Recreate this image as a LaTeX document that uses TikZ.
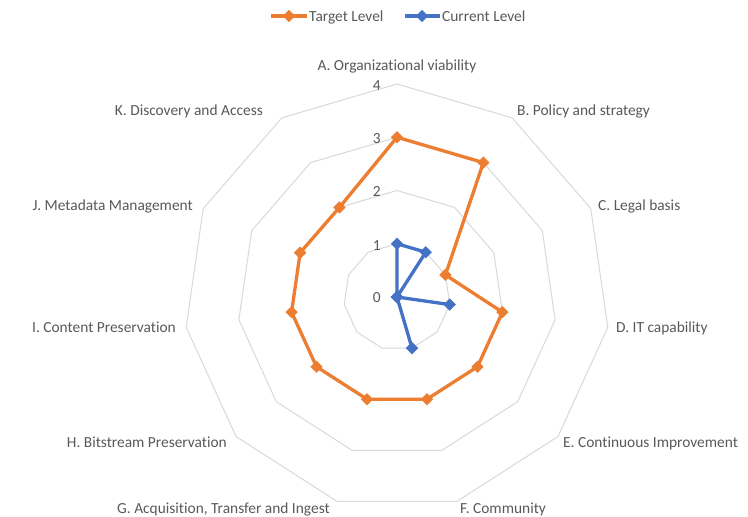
\documentclass[tikz,border=0pt]{standalone}
\usepackage{fontspec}
\setmainfont{Carlito}[Ligatures={NoCommon}]
\usetikzlibrary{shapes.geometric}
\definecolor{tgtc}{RGB}{237,125,49}
\definecolor{curc}{RGB}{68,114,196}
\definecolor{gridc}{RGB}{217,217,217}
\definecolor{txtc}{RGB}{89,89,89}
\tikzset{
  gridline/.style={draw=gridc, line width=1pt, line join=round},
  tline/.style={draw=tgtc, line width=3.3pt, line join=round},
  cline/.style={draw=curc, line width=3.3pt, line join=round},
  tmark/.style={diamond, fill=tgtc, inner sep=0pt, minimum size=12.5pt},
  cmark/.style={diamond, fill=curc, inner sep=0pt, minimum size=12.5pt},
  axlabel/.style={text=txtc, inner sep=0pt, yshift=-3pt, font=\fontsize{15.4}{18}\selectfont},
  ticklabel/.style={text=txtc, inner sep=0pt, yshift=-3pt, font=\fontsize{15.4}{18}\selectfont},
}
\begin{document}
\begin{tikzpicture}[x=1pt,y=-1pt]
\useasboundingbox[fill=white] (0,0) rectangle (748,517);
\def\cx{397}\def\cy{297}\def\u{53.25}
% grid polygons
\foreach \r in {1,...,4}{
  \foreach \k in {0,...,10}{
    \coordinate (g\r-\k) at ({\cx+\r*\u*cos(90-\k*360/11)},{\cy-\r*\u*sin(90-\k*360/11)});
  }
  \draw[gridline] (g\r-0) -- (g\r-1) -- (g\r-2) -- (g\r-3) -- (g\r-4) -- (g\r-5) -- (g\r-6) -- (g\r-7) -- (g\r-8) -- (g\r-9) -- (g\r-10) -- cycle;
}
% tick labels
\node[ticklabel, anchor=mid east] (tk4) at (381,85) {4};
\node[ticklabel, anchor=mid east] (tk3) at (381,138) {3};
\node[ticklabel, anchor=mid east] (tk2) at (381,191) {2};
\node[ticklabel, anchor=mid east] (tk1) at (381,245) {1};
\node[ticklabel, anchor=mid east] (tk0) at (381,297) {0};
% data coordinates
\foreach \k/\v in {0/3,1/3,2/1,3/2,4/2,5/2,6/2,7/2,8/2,9/2,10/2}{
  \coordinate (t\k) at ({\cx+\v*\u*cos(90-\k*360/11)},{\cy-\v*\u*sin(90-\k*360/11)});
}
\foreach \k/\v in {0/1,1/1,2/0,3/1,4/0,5/1,6/0,7/0,8/0,9/0,10/0}{
  \coordinate (c\k) at ({\cx+\v*\u*cos(90-\k*360/11)},{\cy-\v*\u*sin(90-\k*360/11)});
}
% target series
\draw[tline] (t0) -- (t1) -- (t2) -- (t3) -- (t4) -- (t5) -- (t6) -- (t7) -- (t8) -- (t9) -- (t10) -- cycle;
\foreach \k in {0,...,10}{ \node[tmark] (tm\k) at (t\k) {}; }
% current series
\draw[cline] (c0) -- (c1) -- (c2) -- (c3) -- (c4) -- (c5) -- (c6) -- (c7) -- (c8) -- (c9) -- (c10) -- cycle;
\foreach \k in {0,...,10}{ \node[cmark] (cm\k) at (c\k) {}; }
% axis labels
\node[axlabel, anchor=mid] (la) at (397,65) {A. Organizational viability};
\node[axlabel, anchor=mid west] (lb) at (517,110) {B. Policy and strategy};
\node[axlabel, anchor=mid west] (lc) at (598,205) {C. Legal basis};
\node[axlabel, anchor=mid west] (ld) at (616,327) {D. IT capability};
\node[axlabel, anchor=mid west] (le) at (563,442) {E. Continuous Improvement};
\node[axlabel, anchor=mid west] (lf) at (460,508) {F. Community};
\node[axlabel, anchor=mid east] (lg) at (330,508) {G. Acquisition, Transfer and Ingest};
\node[axlabel, anchor=mid east] (lh) at (227,442) {H. Bitstream Preservation};
\node[axlabel, anchor=mid east] (li) at (176,327) {I. Content Preservation};
\node[axlabel, anchor=mid east] (lj) at (193,205) {J. Metadata Management};
\node[axlabel, anchor=mid east] (lk) at (263,110) {K. Discovery and Access};
% legend
\coordinate (lt1) at (271,16); \coordinate (lt2) at (307,16);
\draw[tline] (lt1) -- (lt2);
\node[tmark] (ltm) at (289,16) {};
\node[axlabel, anchor=mid west] (ltt) at (309,16) {Target Level};
\coordinate (lc1) at (405,16); \coordinate (lc2) at (440,16);
\draw[cline] (lc1) -- (lc2);
\node[cmark] (lcm) at (422,16) {};
\node[axlabel, anchor=mid west] (lct) at (442,16) {Current Level};
\end{tikzpicture}
\end{document}
